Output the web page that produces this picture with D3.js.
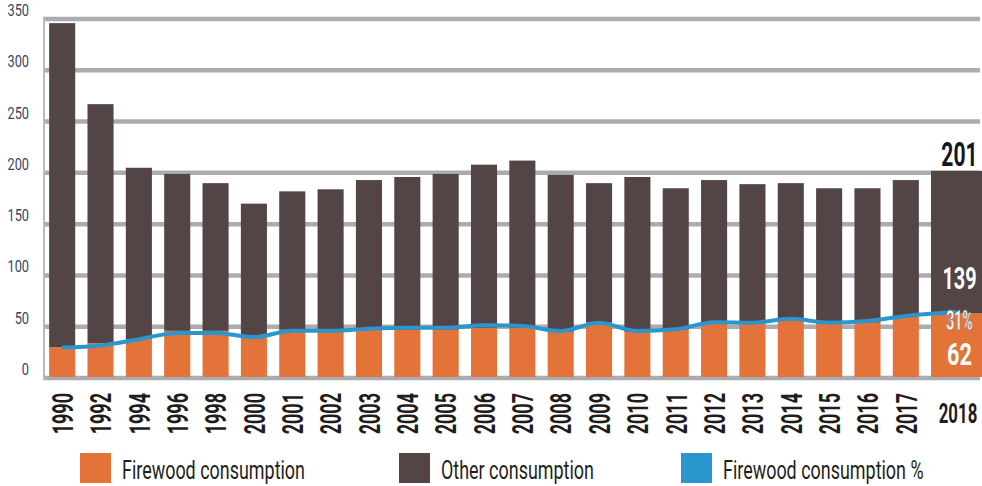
<!DOCTYPE html>
<html>
<head>
<meta charset="utf-8">
<script src="https://cdn.jsdelivr.net/npm/d3@7"></script>
<style>
  body { margin: 0; background: #fff; }
  text { font-family: Roboto, "DejaVu Sans", sans-serif; }
</style>
</head>
<body>
<div id="chart"></div>
<script>
// Values
var years = ["1990", "1992", "1994", "1996", "1998", "2000", "2001", "2002", "2003", "2004", "2005", "2006",
             "2007", "2008", "2009", "2010", "2011", "2012", "2013", "2014", "2015", "2016", "2017", "2018"];
var firewood = [29, 33, 37, 45, 45, 39, 46, 44, 46, 46, 46, 48, 48, 44, 53, 44, 46, 52, 52, 56, 52, 53, 59, 62];
var other = [316, 233, 167, 153, 144, 130, 135, 139, 146, 149, 152, 159, 163, 153, 136, 151, 138, 140, 136, 133, 132, 131, 133, 139];
var firewoodPct = [14, 15, 18, 21, 21, 19, 22, 22, 23, 23.5, 23.5, 24.7, 24.3, 21.9, 25.9, 21.9, 22.7, 26.1, 25.9, 27.7, 25.9, 26.7, 29.1, 31];
var yTicks = [0, 50, 100, 150, 200, 250, 300, 350];
var legendLabels = ["Firewood consumption", "Other consumption", "Firewood consumption %"];

var w = 982, h = 486;
var orange = "#e4733a", brown = "#534546", blue = "#2a96cd", gridColor = "#abacaf";

var rows = years.map(function(yr, i) {
  return {year: yr, firewood: firewood[i], other: other[i], pct: firewoodPct[i]};
});
var lastYear = years[years.length - 1];
var last = rows[rows.length - 1];

var svg = d3.select("#chart").append("svg")
  .attr("width", w)
  .attr("height", h);

// Scales
var y = d3.scaleLinear().domain([0, 350]).range([377, 18]);
var yPct = d3.scaleLinear().domain([0, 171]).range(y.range());
var x = d3.scaleBand().domain(years.slice(0, -1)).range([43, 925]).paddingInner(0.32).paddingOuter(0.16);
var xLast = d3.scaleBand().domain([lastYear]).range([931, 982]);

function bx(yr) { return yr === lastYear ? xLast(yr) : x(yr); }
function bw(yr) { return yr === lastYear ? xLast.bandwidth() : x.bandwidth(); }
function cx(yr) { return bx(yr) + bw(yr) / 2; }

// condensed text: squeeze along the text direction
function squeeze(sel, tx, ty, sx, rot) {
  sel.attr("transform", function(d, i) {
    return "translate(" + tx(d, i) + "," + ty(d, i) + ")" + (rot ? " rotate(" + rot + ")" : "") + " scale(" + sx + ",1)";
  });
}

// Grid
svg.append("g").selectAll("line")
  .data(yTicks)
  .enter().append("line")
  .attr("x1", 43).attr("x2", 980)
  .attr("y1", function(d) { return y(d) + 1; })
  .attr("y2", function(d) { return y(d) + 1; })
  .style("stroke", gridColor)
  .style("stroke-width", 4.5);

svg.append("line")
  .attr("x1", 44).attr("x2", 44)
  .attr("y1", y(350) - 1).attr("y2", y(0) + 3)
  .style("stroke", "#b9babd")
  .style("stroke-width", 2);

// Y tick labels
svg.append("g").selectAll("text")
  .data(yTicks)
  .enter().append("text")
  .text(function(d) { return d; })
  .attr("text-anchor", "end")
  .style("font-size", "17px")
  .style("fill", "#3a3f66")
  .call(squeeze, function() { return 29; }, function(d) { return y(d) - 2; }, 0.75);

// Stacked bars
var stacked = d3.stack().keys(["firewood", "other"])(rows);
var colors = {firewood: orange, other: brown};

svg.append("g").selectAll("g")
  .data(stacked)
  .enter().append("g")
  .style("fill", function(d) { return colors[d.key]; })
  .selectAll("rect")
  .data(function(d) { return d; })
  .enter().append("rect")
  .attr("x", function(d) { return bx(d.data.year); })
  .attr("width", function(d) { return bw(d.data.year); })
  .attr("y", function(d) { return y(d[1]); })
  .attr("height", function(d) { return y(d[0]) - y(d[1]); });

// Percentage line
var pctLine = d3.line()
  .x(function(d) { return cx(d.year); })
  .y(function(d) { return yPct(d.pct); })
  .curve(d3.curveMonotoneX);

svg.append("path")
  .datum(rows)
  .attr("d", pctLine)
  .style("fill", "none")
  .style("stroke", blue)
  .style("stroke-width", 4)
  .style("stroke-linejoin", "round");

// X labels, rotated, except the highlighted last year
svg.append("g").selectAll("text")
  .data(years.slice(0, -1))
  .enter().append("text")
  .text(function(d) { return d; })
  .attr("text-anchor", "end")
  .attr("dy", "0.36em")
  .style("font-size", "30px")
  .style("font-weight", 700)
  .style("fill", "#1f1c20")
  .call(squeeze, function(d) { return cx(d); }, function() { return 393; }, 0.6, -90);

svg.append("text")
  .datum(lastYear)
  .text(lastYear)
  .attr("text-anchor", "middle")
  .style("font-size", "28px")
  .style("font-weight", 700)
  .style("fill", "#1f1c20")
  .call(squeeze, function() { return 958; }, function() { return 423; }, 0.6);

// Annotations on the last bar
var labelX = function(d) { return cx(d.year) + 3; };

svg.append("text")
  .datum(last)
  .text(last.firewood + last.other)
  .attr("text-anchor", "middle")
  .style("font-size", "34px")
  .style("font-weight", 700)
  .style("fill", "#15151f")
  .call(squeeze, labelX, function(d) { return y(d.firewood + d.other) - 5; }, 0.62);

svg.append("text")
  .datum(last)
  .text(last.other)
  .attr("text-anchor", "middle")
  .style("font-size", "32px")
  .style("font-weight", 700)
  .style("fill", "#fff")
  .call(squeeze, labelX, function(d) { return y(d.firewood) - 24; }, 0.62);

svg.append("text")
  .datum(last)
  .text(last.pct + "%")
  .attr("text-anchor", "middle")
  .style("font-size", "27px")
  .style("font-weight", 700)
  .style("fill", "#fff")
  .style("stroke", "#8a8a8a")
  .style("stroke-width", 0.8)
  .call(squeeze, labelX, function(d) { return yPct(d.pct) + 18; }, 0.52);

svg.append("text")
  .datum(last)
  .text(last.firewood)
  .attr("text-anchor", "middle")
  .style("font-size", "31px")
  .style("font-weight", 700)
  .style("fill", "#fff")
  .call(squeeze, labelX, function() { return y(0) - 12; }, 0.7);

// Legend
var legendX = [80, 399, 681];
var legendColors = [orange, brown, blue];
var legend = svg.append("g").selectAll("g")
  .data(legendLabels)
  .enter().append("g")
  .attr("transform", function(d, i) { return "translate(" + legendX[i] + ",453)"; });

legend.append("rect")
  .attr("width", 31)
  .attr("height", 30)
  .style("fill", function(d, i) { return legendColors[i]; });

legend.append("text")
  .text(function(d) { return d; })
  .style("font-size", "26px")
  .style("fill", "#231f20")
  .call(squeeze, function() { return 42; }, function() { return 26; }, 0.69);
</script>
</body>
</html>
